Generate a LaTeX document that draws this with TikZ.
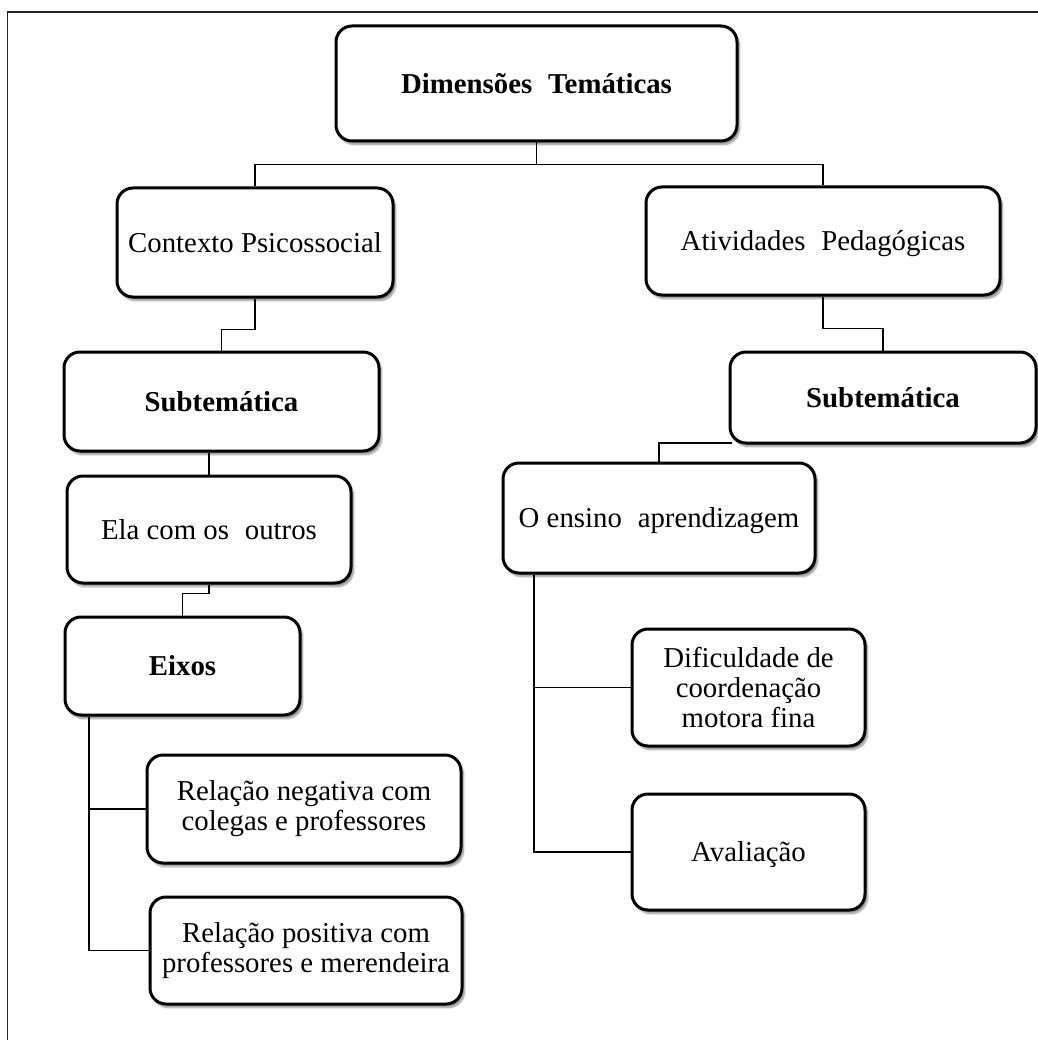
\documentclass[tikz,border=0pt]{standalone}
\usepackage{fontspec}
\setmainfont{Liberation Serif}
\usetikzlibrary{shadows.blur}

\tikzset{
  box/.style={draw=black, line width=3pt, rounded corners=16pt, fill=white,
    align=center, inner sep=0pt, anchor=center,
    font=\fontsize{28.8}{30}\selectfont,
    blur shadow={shadow xshift=2.5pt, shadow yshift=-3.5pt, shadow blur steps=8,
      shadow blur extra rounding=2pt, shadow opacity=45}},
  oneline/.style={text height=19.5pt, text depth=0pt},
  link/.style={draw=black, line width=1.6pt},
  frame/.style={draw=black!85, line width=1.8pt}
}
\newcommand{\dsp}{\hspace{0.55em}}

\begin{document}
\begin{tikzpicture}[x=1pt, y=-1pt]
\useasboundingbox (0,0) rectangle (1037,1040);

% outer frame (top and left edges are visible)
\coordinate (fTL) at (7.5,12);
\coordinate (fTR) at (1040,12);
\coordinate (fBL) at (7.5,1043);
\draw[frame] (fTR) -- (fTL) -- (fBL);

% boxes
\node[box, oneline, minimum width=401pt, minimum height=115pt] (top) at (536.5,83.5)
  {\textbf{Dimensões\dsp Temáticas}};
\node[box, oneline, minimum width=276pt, minimum height=109pt] (ctx) at (255,242.5)
  {Contexto Psicossocial};
\node[box, oneline, minimum width=354pt, minimum height=108pt] (ativ) at (823,241)
  {Atividades\dsp Pedagógicas};
\node[box, oneline, minimum width=315pt, minimum height=99pt] (subL) at (221.5,401.5)
  {\textbf{Subtemática}};
\node[box, oneline, minimum width=306pt, minimum height=91pt] (subR) at (883,397.5)
  {\textbf{Subtemática}};
\node[box, oneline, minimum width=284pt, minimum height=107pt] (ela) at (209,529.5)
  {Ela com os\dsp outros};
\node[box, oneline, minimum width=312pt, minimum height=110pt] (ens) at (659,518)
  {O ensino\dsp aprendizagem};
\node[box, oneline, minimum width=235pt, minimum height=98pt] (eixos) at (182.5,666)
  {\textbf{Eixos}};
\node[box, minimum width=233pt, minimum height=117pt] (dif) at (748.5,687.5)
  {Dificuldade de\\coordenação\\motora fina};
\node[box, oneline, minimum width=233pt, minimum height=116pt] (aval) at (748.5,852)
  {Avaliação};
\node[box, minimum width=314pt, minimum height=108pt] (rneg) at (304,809)
  {Relação negativa com\\colegas e professores};
\node[box, minimum width=312pt, minimum height=107pt] (rpos) at (306,950.5)
  {Relação positiva com\\professores e merendeira};

% connectors
\draw[link] (top.south) -- ++(0,22) coordinate (bus);
\draw[link] (ctx.north) |- (bus) -| (ativ.north);
\draw[link] (ctx.south) -- ++(0,31) -| (subL.north);
\draw[link] (ativ.south) -- ++(0,32) -| (subR.north);
\draw[link] (ela.north) -- (ela.north |- subL.south);
\draw[link] (ela.south -| 209,0) -- ++(0,9) -| (eixos.north);
\draw[link] (ens.north) |- ([xshift=3pt,yshift=1.5pt]subR.south west);
\draw[link] (eixos.south -| 89,0) |- (rneg.west);
\draw[link] (eixos.south -| 89,0) |- (rpos.west);
\draw[link] (ens.south -| 534,0) |- (dif.west);
\draw[link] (ens.south -| 534,0) |- (aval.west);
\end{tikzpicture}
\end{document}
